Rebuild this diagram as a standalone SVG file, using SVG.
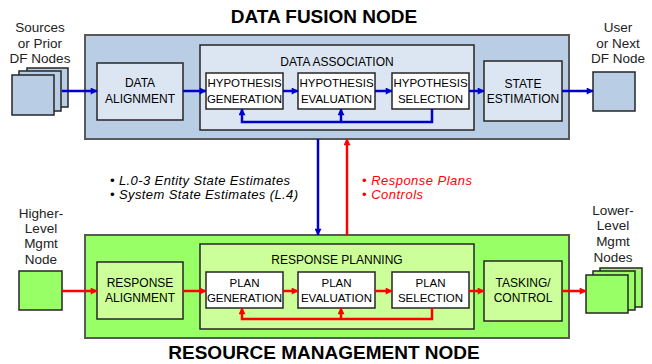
<svg xmlns="http://www.w3.org/2000/svg" width="652" height="364" viewBox="0 0 652 364">
<style>
  text { font-family: "Liberation Sans", Arial, sans-serif; fill: #000; }
  .title { font-size: 19px; font-weight: bold; text-anchor: middle; }
  .lbl { font-size: 13.5px; text-anchor: middle; fill: #222; }
  .box { font-size: 11.5px; text-anchor: middle; }
  .bx12 { font-size: 12px; text-anchor: middle; }
  .hdr { font-size: 12px; text-anchor: middle; }
  .note { font-size: 13px; font-style: italic; }
  .outerB { fill: #b9cde5; stroke: #595959; stroke-width: 2; }
  .lightB { fill: #dce6f2; stroke: #262626; stroke-width: 1.5; }
  .outerG { fill: #99ff66; stroke: #595959; stroke-width: 2; }
  .lightG { fill: #ccff99; stroke: #262626; stroke-width: 1.5; }
  .white { fill: #ffffff; stroke: #262626; stroke-width: 1.5; }
  .nodeB { fill: #b9cde5; stroke: #262626; stroke-width: 1.5; }
  .nodeG { fill: #99ff66; stroke: #262626; stroke-width: 1.5; }
  .blue { stroke: #0000cc; stroke-width: 2.5; fill: none; marker-end: url(#ab); }
  .red { stroke: #ff0000; stroke-width: 2.5; fill: none; marker-end: url(#ar); }
</style>
<defs>
  <marker id="ab" viewBox="0 0 10 10" refX="9" refY="5" markerWidth="8" markerHeight="7" markerUnits="userSpaceOnUse" orient="auto">
    <path d="M0,0 L10,5 L0,10 Z" fill="#0000cc"/>
  </marker>
  <marker id="ar" viewBox="0 0 10 10" refX="9" refY="5" markerWidth="8" markerHeight="7" markerUnits="userSpaceOnUse" orient="auto">
    <path d="M0,0 L10,5 L0,10 Z" fill="#ff0000"/>
  </marker>
</defs>

<rect width="652" height="364" fill="#ffffff"/>

<!-- Data Fusion Node -->
<g id="data-fusion-node">
  <rect class="outerB" x="85" y="35" width="484" height="104"/>
  <text class="title" x="324" y="23">DATA FUSION NODE</text>
</g>
<g id="data-association">
  <rect class="lightB" x="200" y="45" width="274" height="85"/>
  <text class="hdr" x="337" y="66">DATA ASSOCIATION</text>
</g>
<g id="data-alignment">
  <rect class="lightB" x="97" y="63" width="86" height="57"/>
  <text class="bx12" x="140" y="87">DATA</text>
  <text class="bx12" x="140" y="103">ALIGNMENT</text>
</g>
<g id="hyp-generation">
  <rect class="white" x="206" y="73" width="77" height="36"/>
  <text class="box" x="244.5" y="87">HYPOTHESIS</text>
  <text class="box" x="244.5" y="103">GENERATION</text>
</g>
<g id="hyp-evaluation">
  <rect class="white" x="298" y="73" width="77" height="36"/>
  <text class="box" x="336.5" y="87">HYPOTHESIS</text>
  <text class="box" x="336.5" y="103">EVALUATION</text>
</g>
<g id="hyp-selection">
  <rect class="white" x="392" y="73" width="77" height="36"/>
  <text class="box" x="430.5" y="87">HYPOTHESIS</text>
  <text class="box" x="430.5" y="103">SELECTION</text>
</g>
<g id="state-estimation">
  <rect class="lightB" x="484" y="61" width="78" height="60"/>
  <text class="bx12" x="523" y="88">STATE</text>
  <text class="bx12" x="523" y="103">ESTIMATION</text>
</g>
<g id="sources">
  <rect class="nodeB" x="27" y="68" width="41" height="39"/>
  <rect class="nodeB" x="19" y="71" width="42" height="40"/>
  <rect class="nodeB" x="12" y="75" width="42" height="40"/>
  <text class="lbl" x="40" y="32">Sources</text>
  <text class="lbl" x="40" y="48">or Prior</text>
  <text class="lbl" x="40" y="63">DF Nodes</text>
</g>
<g id="user-node">
  <rect class="nodeB" x="593" y="72" width="42" height="39"/>
  <text class="lbl" x="618" y="32">User</text>
  <text class="lbl" x="618" y="48">or Next</text>
  <text class="lbl" x="618" y="63">DF Node</text>
</g>

<!-- Resource Management Node -->
<g id="resource-management-node">
  <rect class="outerG" x="85" y="235" width="484" height="103"/>
  <text class="title" x="324" y="359">RESOURCE MANAGEMENT NODE</text>
</g>
<g id="response-planning">
  <rect class="lightG" x="200" y="244" width="274" height="85"/>
  <text class="hdr" x="337" y="264">RESPONSE PLANNING</text>
</g>
<g id="response-alignment">
  <rect class="lightG" x="97" y="262" width="86" height="57"/>
  <text class="bx12" x="140" y="287">RESPONSE</text>
  <text class="bx12" x="140" y="302">ALIGNMENT</text>
</g>
<g id="plan-generation">
  <rect class="white" x="206" y="272" width="77" height="36"/>
  <text class="box" x="244.5" y="287">PLAN</text>
  <text class="box" x="244.5" y="302">GENERATION</text>
</g>
<g id="plan-evaluation">
  <rect class="white" x="298" y="272" width="77" height="36"/>
  <text class="box" x="336.5" y="287">PLAN</text>
  <text class="box" x="336.5" y="302">EVALUATION</text>
</g>
<g id="plan-selection">
  <rect class="white" x="392" y="272" width="77" height="36"/>
  <text class="box" x="430.5" y="287">PLAN</text>
  <text class="box" x="430.5" y="302">SELECTION</text>
</g>
<g id="tasking-control">
  <rect class="lightG" x="484" y="261" width="78" height="60"/>
  <text class="bx12" x="523" y="287">TASKING/</text>
  <text class="bx12" x="523" y="302">CONTROL</text>
</g>
<g id="higher-level-node">
  <rect class="nodeG" x="19" y="271" width="43" height="39"/>
  <text class="lbl" x="41" y="218">Higher-</text>
  <text class="lbl" x="41" y="233">Level</text>
  <text class="lbl" x="41" y="248">Mgmt</text>
  <text class="lbl" x="41" y="264">Node</text>
</g>
<g id="lower-level-nodes">
  <rect class="nodeG" x="600" y="268" width="42" height="39"/>
  <rect class="nodeG" x="593" y="271" width="42" height="39"/>
  <rect class="nodeG" x="586" y="275" width="42" height="38"/>
  <text class="lbl" x="613" y="215">Lower-</text>
  <text class="lbl" x="613" y="230">Level</text>
  <text class="lbl" x="613" y="246">Mgmt</text>
  <text class="lbl" x="613" y="262">Nodes</text>
</g>

<!-- Interface notes -->
<g id="notes">
  <text class="note" x="110" y="185" textLength="180" lengthAdjust="spacing">• L.0-3 Entity State Estimates</text>
  <text class="note" x="110" y="199" textLength="188" lengthAdjust="spacing">• System State Estimates (L.4)</text>
  <text class="note" x="362" y="185" textLength="110" lengthAdjust="spacing" style="fill:#ff0000">• Response Plans</text>
  <text class="note" x="362" y="199" textLength="61" lengthAdjust="spacing" style="fill:#ff0000">• Controls</text>
</g>

<!-- Connectors -->
<g id="connectors">
  <line class="blue" x1="62" y1="91" x2="97" y2="91"/>
  <line class="blue" x1="183" y1="91" x2="206" y2="91"/>
  <line class="blue" x1="283" y1="91" x2="298" y2="91"/>
  <line class="blue" x1="375" y1="91" x2="392" y2="91"/>
  <line class="blue" x1="469" y1="91" x2="484" y2="91"/>
  <line class="blue" x1="562" y1="91" x2="593" y2="91"/>
  <polyline class="blue" points="432,109 432,122 242,122 242,109"/>
  <line class="blue" x1="341" y1="122" x2="341" y2="109"/>
  <line class="blue" x1="318" y1="139" x2="318" y2="235"/>
  <line class="red" x1="347" y1="235" x2="347" y2="139"/>

  <line class="red" x1="62" y1="291" x2="97" y2="291"/>
  <line class="red" x1="183" y1="291" x2="206" y2="291"/>
  <line class="red" x1="283" y1="291" x2="298" y2="291"/>
  <line class="red" x1="375" y1="291" x2="392" y2="291"/>
  <line class="red" x1="469" y1="291" x2="484" y2="291"/>
  <line class="red" x1="562" y1="291" x2="586" y2="291"/>
  <polyline class="red" points="432,308 432,319 242,319 242,308"/>
  <line class="red" x1="341" y1="319" x2="341" y2="308"/>
</g>
</svg>
